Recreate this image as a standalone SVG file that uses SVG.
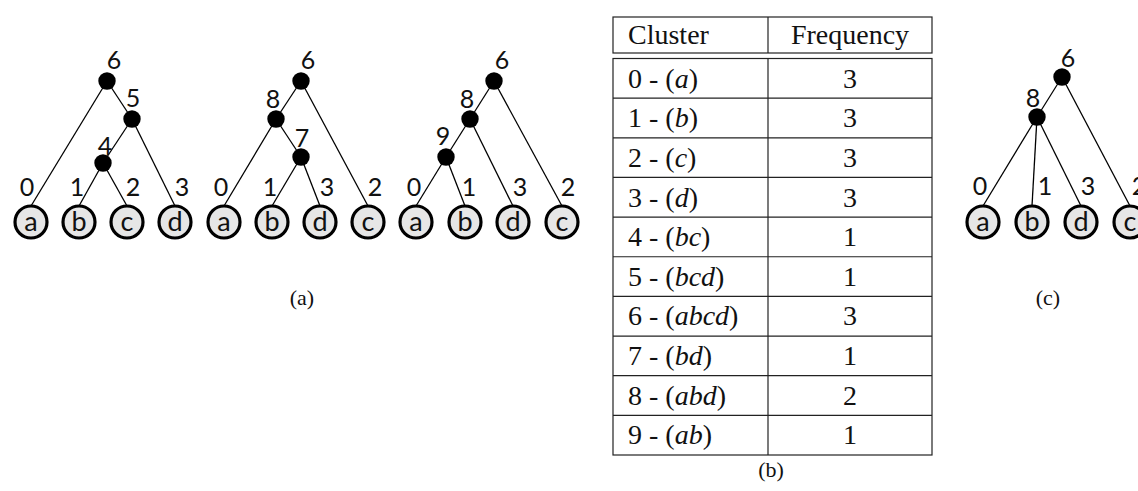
<svg xmlns="http://www.w3.org/2000/svg" width="1138" height="491" viewBox="0 0 1138 491">
  <style>
    .edge { stroke: #000; stroke-width: 1.3; fill: none; }
    .inner { fill: #000; }
    .leaf circle { fill: #e6e6e6; stroke: #000; stroke-width: 3.2; }
    .leaf text { font-family: Lato, "Open Sans", sans-serif; font-size: 27px; text-anchor: middle; fill: #111; }
    .lbl { font-family: Lato, "Open Sans", sans-serif; font-size: 25px; text-anchor: middle; fill: #111; }
    .cap { font-family: "Liberation Serif", serif; font-size: 22px; text-anchor: middle; fill: #111; }
    .grid { stroke: #222; stroke-width: 1.2; fill: none; }
    .cell { font-family: "Liberation Serif", serif; font-size: 28px; fill: #111; }
    .num { text-anchor: middle; }
    .it { font-style: italic; }
  </style>

  <!-- Tree (a)-1: ((b,c),d) joined with a -->
  <g id="tree-a1">
    <g id="tree-a1-edges">
      <line class="edge" x1="107" y1="81" x2="31" y2="206"/>
      <line class="edge" x1="107" y1="81" x2="132" y2="119"/>
      <line class="edge" x1="132" y1="119" x2="103" y2="163"/>
      <line class="edge" x1="132" y1="119" x2="175" y2="206"/>
      <line class="edge" x1="103" y1="163" x2="79" y2="206"/>
      <line class="edge" x1="103" y1="163" x2="127" y2="206"/>
    </g>
    <g id="a1-n6"><circle class="inner" cx="107" cy="81" r="8.7"/><text class="lbl" x="114" y="69">6</text></g>
    <g id="a1-n5"><circle class="inner" cx="132" cy="119" r="8.7"/><text class="lbl" x="133" y="107">5</text></g>
    <g id="a1-n4"><circle class="inner" cx="103" cy="163" r="8.7"/><text class="lbl" x="105" y="155">4</text></g>
    <g id="a1-a" class="leaf"><circle cx="31" cy="222" r="16"/><text x="31" y="231">a</text></g>
    <g id="a1-b" class="leaf"><circle cx="79" cy="222" r="16"/><text x="79" y="231">b</text></g>
    <g id="a1-c" class="leaf"><circle cx="127" cy="222" r="16"/><text x="127" y="231">c</text></g>
    <g id="a1-d" class="leaf"><circle cx="175" cy="222" r="16"/><text x="175" y="231">d</text></g>
    <text class="lbl" x="27" y="196">0</text>
    <text class="lbl" x="77" y="196">1</text>
    <text class="lbl" x="133" y="196">2</text>
    <text class="lbl" x="182" y="196">3</text>
  </g>

  <!-- Tree (a)-2 -->
  <g id="tree-a2">
    <g id="tree-a2-edges">
      <line class="edge" x1="301" y1="81" x2="276" y2="119"/>
      <line class="edge" x1="301" y1="81" x2="368" y2="206"/>
      <line class="edge" x1="276" y1="119" x2="224" y2="206"/>
      <line class="edge" x1="276" y1="119" x2="301" y2="157"/>
      <line class="edge" x1="301" y1="157" x2="272" y2="206"/>
      <line class="edge" x1="301" y1="157" x2="320" y2="206"/>
    </g>
    <g id="a2-n6"><circle class="inner" cx="301" cy="81" r="8.7"/><text class="lbl" x="308" y="69">6</text></g>
    <g id="a2-n8"><circle class="inner" cx="276" cy="119" r="8.7"/><text class="lbl" x="273" y="108">8</text></g>
    <g id="a2-n7"><circle class="inner" cx="301" cy="157" r="8.7"/><text class="lbl" x="302" y="147">7</text></g>
    <g id="a2-a" class="leaf"><circle cx="224" cy="222" r="16"/><text x="224" y="231">a</text></g>
    <g id="a2-b" class="leaf"><circle cx="272" cy="222" r="16"/><text x="272" y="231">b</text></g>
    <g id="a2-d" class="leaf"><circle cx="320" cy="222" r="16"/><text x="320" y="231">d</text></g>
    <g id="a2-c" class="leaf"><circle cx="368" cy="222" r="16"/><text x="368" y="231">c</text></g>
    <text class="lbl" x="221" y="196">0</text>
    <text class="lbl" x="270" y="196">1</text>
    <text class="lbl" x="327" y="196">3</text>
    <text class="lbl" x="375" y="196">2</text>
  </g>

  <!-- Tree (a)-3 -->
  <g id="tree-a3">
    <g id="tree-a3-edges">
      <line class="edge" x1="494" y1="81" x2="470" y2="119"/>
      <line class="edge" x1="494" y1="81" x2="562" y2="206"/>
      <line class="edge" x1="470" y1="119" x2="446" y2="157"/>
      <line class="edge" x1="470" y1="119" x2="513" y2="206"/>
      <line class="edge" x1="446" y1="157" x2="416" y2="206"/>
      <line class="edge" x1="446" y1="157" x2="465" y2="206"/>
    </g>
    <g id="a3-n6"><circle class="inner" cx="494" cy="81" r="8.7"/><text class="lbl" x="502" y="69">6</text></g>
    <g id="a3-n8"><circle class="inner" cx="470" cy="119" r="8.7"/><text class="lbl" x="467" y="108">8</text></g>
    <g id="a3-n9"><circle class="inner" cx="446" cy="157" r="8.7"/><text class="lbl" x="443" y="145">9</text></g>
    <g id="a3-a" class="leaf"><circle cx="416" cy="222" r="16"/><text x="416" y="231">a</text></g>
    <g id="a3-b" class="leaf"><circle cx="465" cy="222" r="16"/><text x="465" y="231">b</text></g>
    <g id="a3-d" class="leaf"><circle cx="513" cy="222" r="16"/><text x="513" y="231">d</text></g>
    <g id="a3-c" class="leaf"><circle cx="562" cy="222" r="16"/><text x="562" y="231">c</text></g>
    <text class="lbl" x="414" y="196">0</text>
    <text class="lbl" x="469" y="196">1</text>
    <text class="lbl" x="520" y="196">3</text>
    <text class="lbl" x="568" y="196">2</text>
  </g>

  <text class="cap" x="302" y="305">(a)</text>

  <!-- Cluster frequency table -->
  <g id="table">
    <rect class="grid" x="613" y="17" width="319" height="36"/>
    <line class="grid" x1="768" y1="17" x2="768" y2="53"/>
    <text class="cell" x="628" y="44">Cluster</text>
    <text class="cell num" x="850" y="44">Frequency</text>

    <rect class="grid" x="613" y="58.5" width="319" height="396.5"/>
    <line class="grid" x1="768" y1="58.5" x2="768" y2="455"/>
    <g class="grid">
      <line x1="613" y1="98.15" x2="932" y2="98.15"/>
      <line x1="613" y1="137.8" x2="932" y2="137.8"/>
      <line x1="613" y1="177.45" x2="932" y2="177.45"/>
      <line x1="613" y1="217.1" x2="932" y2="217.1"/>
      <line x1="613" y1="256.75" x2="932" y2="256.75"/>
      <line x1="613" y1="296.4" x2="932" y2="296.4"/>
      <line x1="613" y1="336.05" x2="932" y2="336.05"/>
      <line x1="613" y1="375.7" x2="932" y2="375.7"/>
      <line x1="613" y1="415.35" x2="932" y2="415.35"/>
    </g>
    <text class="cell" x="628" y="87.5">0 - (<tspan class="it">a</tspan>)</text>
    <text class="cell" x="628" y="127.2">1 - (<tspan class="it">b</tspan>)</text>
    <text class="cell" x="628" y="166.8">2 - (<tspan class="it">c</tspan>)</text>
    <text class="cell" x="628" y="206.5">3 - (<tspan class="it">d</tspan>)</text>
    <text class="cell" x="628" y="246.1">4 - (<tspan class="it">bc</tspan>)</text>
    <text class="cell" x="628" y="285.8">5 - (<tspan class="it">bcd</tspan>)</text>
    <text class="cell" x="628" y="325.4">6 - (<tspan class="it">abcd</tspan>)</text>
    <text class="cell" x="628" y="365.1">7 - (<tspan class="it">bd</tspan>)</text>
    <text class="cell" x="628" y="404.7">8 - (<tspan class="it">abd</tspan>)</text>
    <text class="cell" x="628" y="444.4">9 - (<tspan class="it">ab</tspan>)</text>
    <text class="cell num" x="850" y="87.5">3</text>
    <text class="cell num" x="850" y="127.2">3</text>
    <text class="cell num" x="850" y="166.8">3</text>
    <text class="cell num" x="850" y="206.5">3</text>
    <text class="cell num" x="850" y="246.1">1</text>
    <text class="cell num" x="850" y="285.8">1</text>
    <text class="cell num" x="850" y="325.4">3</text>
    <text class="cell num" x="850" y="365.1">1</text>
    <text class="cell num" x="850" y="404.7">2</text>
    <text class="cell num" x="850" y="444.4">1</text>
  </g>
  <text class="cap" x="771" y="477">(b)</text>

  <!-- Tree (c): consensus tree -->
  <g id="tree-c">
    <g id="tree-c-edges">
      <line class="edge" x1="1062" y1="77" x2="1037" y2="117"/>
      <line class="edge" x1="1062" y1="77" x2="1130" y2="206"/>
      <line class="edge" x1="1037" y1="117" x2="983" y2="206"/>
      <line class="edge" x1="1037" y1="117" x2="1032" y2="206"/>
      <line class="edge" x1="1037" y1="117" x2="1081" y2="206"/>
    </g>
    <g id="c-n6"><circle class="inner" cx="1062" cy="77" r="8.7"/><text class="lbl" x="1068" y="67">6</text></g>
    <g id="c-n8"><circle class="inner" cx="1037" cy="117" r="8.7"/><text class="lbl" x="1033" y="107">8</text></g>
    <g id="c-a" class="leaf"><circle cx="983" cy="222" r="16"/><text x="983" y="231">a</text></g>
    <g id="c-b" class="leaf"><circle cx="1032" cy="222" r="16"/><text x="1032" y="231">b</text></g>
    <g id="c-d" class="leaf"><circle cx="1081" cy="222" r="16"/><text x="1081" y="231">d</text></g>
    <g id="c-c" class="leaf"><circle cx="1130" cy="222" r="16"/><text x="1130" y="231">c</text></g>
    <text class="lbl" x="980" y="195">0</text>
    <text class="lbl" x="1045" y="195">1</text>
    <text class="lbl" x="1088" y="195">3</text>
    <text class="lbl" x="1139" y="195">2</text>
  </g>
  <text class="cap" x="1048" y="305">(c)</text>
</svg>
